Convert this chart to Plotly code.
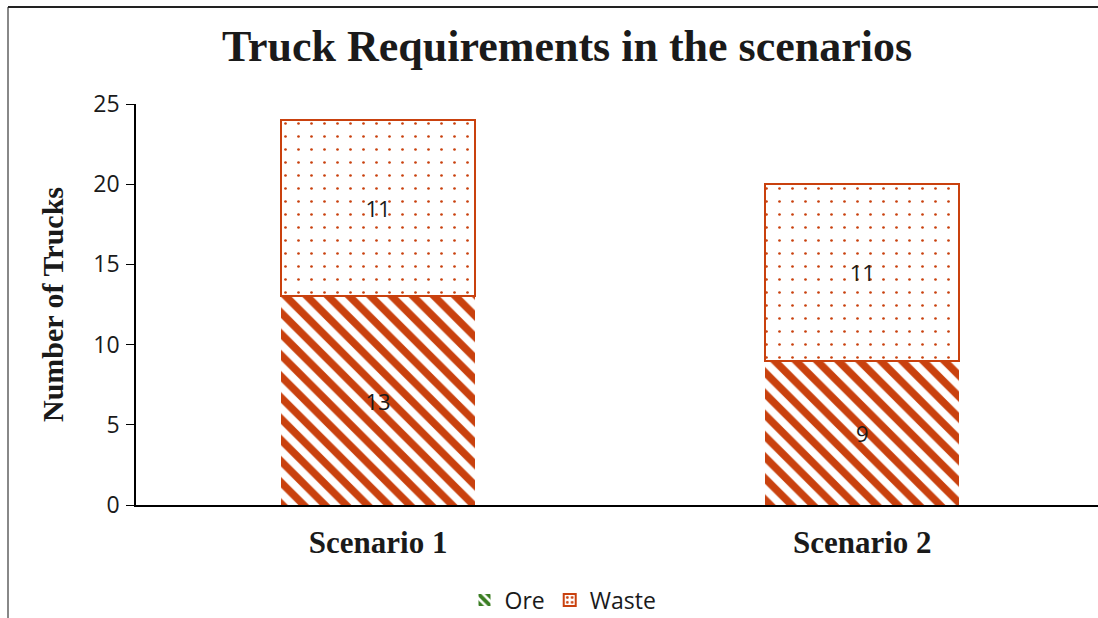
import plotly.graph_objects as go

categories = ["Scenario 1", "Scenario 2"]
ore = [13, 9]
waste = [11, 11]
y_ticks = [0, 5, 10, 15, 20, 25]

ORANGE = "#C9410E"
GREEN = "#3A7D22"
W, H = 1098, 618
L, R, T, B = 136, 0, 104, 113
PW, PH = W - L - R, H - T - B

fig = go.Figure()

fig.add_trace(go.Bar(
    x=categories, y=ore, name="Ore", showlegend=False,
    width=0.4,
    marker=dict(color="white", line=dict(width=0),
                pattern=dict(shape="\\", fgcolor=ORANGE, bgcolor="white",
                             fgopacity=1, size=15, solidity=0.5, fillmode="replace")),
    text=ore, texttemplate="%{text}", textposition="inside",
    insidetextanchor="middle", textangle=0,
    textfont=dict(family="Open Sans", size=22, color="#1a1a1a"),
))
fig.add_trace(go.Bar(
    x=categories, y=waste, name="Waste", showlegend=False,
    width=0.4,
    marker=dict(color="white", line=dict(width=2, color=ORANGE),
                pattern=dict(shape=".", fgcolor=ORANGE, bgcolor="white",
                             fgopacity=1, size=13, solidity=0.035, fillmode="replace")),
    text=waste, texttemplate="%{text}", textposition="inside",
    insidetextanchor="middle", textangle=0,
    textfont=dict(family="Open Sans", size=22, color="#1a1a1a"),
))
# legend-only entries
fig.add_trace(go.Bar(
    x=[categories[0]], y=[None], name="Ore", showlegend=True,
    marker=dict(color="white", line=dict(width=0),
                pattern=dict(shape="\\", fgcolor=GREEN, bgcolor="white",
                             fgopacity=1, size=8, solidity=0.6, fillmode="replace")),
))
fig.add_trace(go.Bar(
    x=[categories[0]], y=[None], name="Waste", showlegend=True,
    marker=dict(color="white", line=dict(width=2, color=ORANGE),
                pattern=dict(shape=".", fgcolor=ORANGE, bgcolor="white",
                             fgopacity=1, size=6, solidity=0.25, fillmode="replace")),
))

fig.update_layout(
    barmode="stack",
    width=W, height=H,
    margin=dict(l=L, r=R, t=T, b=B, autoexpand=False),
    paper_bgcolor="white", plot_bgcolor="white",
    title=dict(text="<b>Truck Requirements in the scenarios</b>",
               x=(567 - L) / PW, xref="paper", xanchor="center",
               y=1 - 46 / H, yref="container", yanchor="middle",
               font=dict(family="Liberation Serif", size=44, color="#1a1a1a")),
    xaxis=dict(range=[-0.5, 1.487], showline=True, linecolor="black", linewidth=1.5,
               ticks="", showgrid=False, automargin=False,
               tickfont=dict(family="Liberation Serif", size=31, color="#1a1a1a",
                             weight="bold"),
               ticklabelstandoff=9),
    yaxis=dict(range=[0, 25], tickvals=y_ticks, showline=True, linecolor="black",
               linewidth=1.5, ticks="outside", ticklen=8, tickcolor="black",
               showgrid=False, zeroline=False, automargin=False,
               tickfont=dict(family="Open Sans", size=23, color="#1a1a1a"),
               ticklabelstandoff=2,
               title=dict(text="<b>Number of Trucks</b>", standoff=21,
                          font=dict(family="Liberation Serif", size=30, color="#1a1a1a"))),
    legend=dict(orientation="h", x=563 / W, xref="container", xanchor="center",
                y=1 - 600 / H, yref="container", yanchor="middle",
                font=dict(family="Open Sans", size=23, color="#1a1a1a"),
                itemwidth=30, traceorder="normal"),
)

# outer frame (left and top edges)
fx = (8 - L) / PW
fy = (H - B - 7) / PH
fig.add_shape(type="line", xref="paper", yref="paper",
              x0=fx, x1=fx, y0=-B / PH, y1=fy,
              line=dict(color="#888888", width=2))
fig.add_shape(type="line", xref="paper", yref="paper",
              x0=fx, x1=1.0, y0=fy, y1=fy,
              line=dict(color="#222222", width=2))

fig.write_html("out.html", config={"displayModeBar": False},
               post_script="document.body.style.margin='0';document.body.style.overflow='hidden';")
